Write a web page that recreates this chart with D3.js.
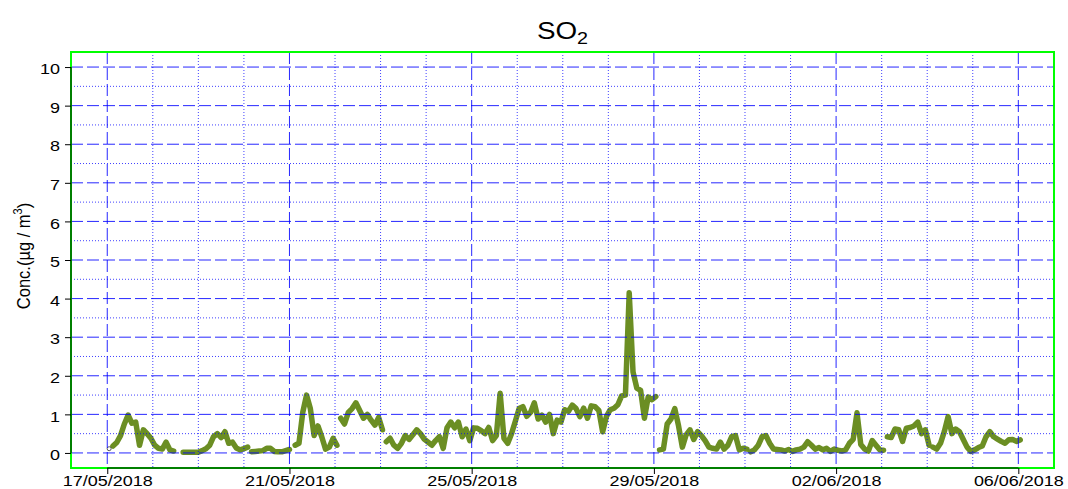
<!DOCTYPE html>
<html>
<head>
<meta charset="utf-8">
<script src="https://cdn.jsdelivr.net/npm/d3@7/dist/d3.min.js"></script>
<style>
	body { margin: 0; background: #fff; }
	text { font-family: "Liberation Sans", Arial, Helvetica, sans-serif; fill: #000; }
</style>
</head>
<body>
<svg id="chart" width="1068" height="489"></svg>
<script>
// SO2 hourly-ish series at 2 h steps.
// segStarts: hours after 17/05/2018 00:00 where each unbroken run begins
const stepHours = 2
const segStarts = [1, 3, 40, 76, 99, 123, 147, 291, 339, 411, 435]
const segValues = [
	[0.11],
	[0.18, 0.27, 0.45, 0.75, 0.98, 0.77, 0.8, 0.2, 0.6, 0.5, 0.38, 0.2, 0.12, 0.1, 0.28, 0.08, 0.05],
	[0.02, 0.02, 0.02, 0.02, 0.02, 0.06, 0.11, 0.2, 0.42, 0.5, 0.4, 0.55, 0.25, 0.28, 0.13, 0.08, 0.11, 0.15],
	[0.03, 0.04, 0.05, 0.06, 0.12, 0.12, 0.04, 0.03, 0.03, 0.06, 0.09],
	[0.2, 0.25, 1.05, 1.5, 1.15, 0.45, 0.7, 0.42, 0.1, 0.15, 0.38, 0.2],
	[0.9, 0.75, 1.05, 1.15, 1.3, 1.1, 0.9, 1.0, 0.85, 0.72, 0.92, 0.6],
	[0.29, 0.38, 0.2, 0.12, 0.25, 0.45, 0.35, 0.47, 0.6, 0.5,
	 0.36, 0.28, 0.2, 0.32, 0.42, 0.12, 0.65, 0.8, 0.65, 0.8,
	 0.42, 0.62, 0.32, 0.65, 0.64, 0.58, 0.5, 0.66, 0.32, 0.45,
	 1.55, 0.38, 0.25, 0.5, 0.82, 1.15, 1.2, 0.95, 1.05, 1.3,
	 0.88, 0.98, 0.8, 1.0, 0.5, 0.85, 0.8, 1.12, 1.08, 1.24,
	 1.15, 0.94, 1.16, 0.9, 1.22, 1.2, 1.1, 0.55, 0.95, 1.12,
	 1.16, 1.25, 1.48, 1.5, 4.15, 2.1, 1.68, 1.62, 0.9, 1.45,
	 1.38, 1.46],
	[0.08, 0.1, 0.75, 0.88, 1.15, 0.7, 0.15, 0.47, 0.6, 0.35, 0.55, 0.45, 0.32, 0.15, 0.12, 0.1, 0.28, 0.1, 0.2, 0.42, 0.45, 0.08, 0.12, 0.1],
	[0.03, 0.08, 0.2, 0.42, 0.45, 0.25, 0.1, 0.09, 0.08, 0.05, 0.09, 0.04, 0.08, 0.1, 0.15, 0.29, 0.2, 0.1, 0.14, 0.08,
	 0.12, 0.04, 0.1, 0.07, 0.05, 0.08, 0.25, 0.35, 1.04, 0.22, 0.1, 0.05, 0.32, 0.2, 0.08, 0.07],
	[0.42, 0.4, 0.62, 0.6, 0.3, 0.64, 0.66, 0.7, 0.8, 0.5, 0.6, 0.2],
	[0.15, 0.1, 0.25, 0.55, 0.94, 0.5, 0.62, 0.55, 0.35, 0.15, 0.04, 0.08, 0.14, 0.18, 0.42, 0.55, 0.42, 0.36, 0.3, 0.25, 0.34, 0.35, 0.3, 0.34],
]
const xTickLabels = ['17/05/2018', '21/05/2018', '25/05/2018', '29/05/2018', '02/06/2018', '06/06/2018']
const yTicks = [0, 1, 2, 3, 4, 5, 6, 7, 8, 9, 10]
const yMinor = [0.5, 1.5, 2.5, 3.5, 4.5, 5.5, 6.5, 7.5, 8.5, 9.5]

const parse = d3.utcParse('%d/%m/%Y')
const fmt = d3.utcFormat('%d/%m/%Y')
const t0 = parse(xTickLabels[0])
const H = 3600e3
const atHour = (h) => new Date(+t0 + h * H)

const plot = { left: 71, top: 52, right: 1054, bottom: 468 }
const sx = 1.16 // the source picture is a little wider than tall

const svg = d3.select('#chart')

const x = d3.scaleUtc()
	.domain([atHour(-19.1), atHour(480 + 18.8)])
	.range([plot.left, plot.right])
const y = d3.scaleLinear()
	.domain([-0.39, 10.39])
	.range([plot.bottom, plot.top])

const majorDays = xTickLabels.map(parse)
const minorDays = d3.utcDay.range(majorDays[0], d3.utcDay.offset(majorDays[majorDays.length - 1], 1))
	.filter(d => !majorDays.some(m => +m === +d))

const segments = segStarts.map((s, i) => segValues[i].map((v, j) => ({ t: atHour(s + j * stepHours), v })))

// data line
const line = d3.line().x(d => x(d.t)).y(d => y(d.v))
const gData = svg.append('g')
gData.selectAll('path')
	.data(segments.filter(s => s.length > 1))
	.enter()
	.append('path')
	.attr('d', line)
	.attr('fill', 'none')
	.attr('stroke', '#6b8e23')
	.attr('stroke-width', 5.5)
	.attr('stroke-linejoin', 'round')
	.attr('stroke-linecap', 'round')

gData.selectAll('circle')
	.data(segments.filter(s => s.length === 1))
	.enter()
	.append('circle')
	.attr('cx', d => x(d[0].t))
	.attr('cy', d => y(d[0].v))
	.attr('r', 2)
	.attr('fill', '#fff')
	.attr('stroke', '#333')
	.attr('stroke-width', 0.8)

// grid (drawn over the line, as in the source)
const gGrid = svg.append('g').attr('stroke', '#0000ff').attr('stroke-width', 1).attr('fill', 'none')
gGrid.selectAll('line.hmaj').data(yTicks).enter().append('line')
	.attr('x1', plot.left).attr('x2', plot.right)
	.attr('y1', d => y(d)).attr('y2', d => y(d))
	.attr('stroke-dasharray', '12,4').attr('stroke-opacity', 0.85)
gGrid.selectAll('line.hmin').data(yMinor).enter().append('line')
	.attr('x1', plot.left).attr('x2', plot.right)
	.attr('y1', d => y(d)).attr('y2', d => y(d))
	.attr('stroke-dasharray', '1,2').attr('stroke-opacity', 0.75)
gGrid.selectAll('line.vmaj').data(majorDays).enter().append('line')
	.attr('y1', plot.top).attr('y2', plot.bottom)
	.attr('x1', d => x(d)).attr('x2', d => x(d))
	.attr('stroke-dasharray', '12,4').attr('stroke-opacity', 0.85)
gGrid.selectAll('line.vmin').data(minorDays).enter().append('line')
	.attr('y1', plot.top).attr('y2', plot.bottom)
	.attr('x1', d => x(d)).attr('x2', d => x(d))
	.attr('stroke-dasharray', '1,2').attr('stroke-opacity', 0.75)

// box
svg.append('rect')
	.attr('x', plot.left).attr('y', plot.top)
	.attr('width', plot.right - plot.left).attr('height', plot.bottom - plot.top)
	.attr('fill', 'none').attr('stroke', '#00ff00').attr('stroke-width', 2)

// axes, base-graphics style: axis line spans first to last tick
const yAxis = svg.append('g')
	.attr('transform', `translate(${plot.left},0)`)
	.call(d3.axisLeft(y).tickValues(yTicks).tickSize(6).tickSizeOuter(0))
yAxis.select('.domain').remove()
yAxis.append('line').attr('stroke', '#000')
	.attr('y1', y(yTicks[0])).attr('y2', y(yTicks[yTicks.length - 1]))
yAxis.selectAll('.tick line').attr('stroke', '#000')
yAxis.selectAll('.tick text')
	.attr('x', null).attr('dy', '0.43em')
	.attr('transform', `translate(-11,0) scale(${sx},1)`)
	.style('font-size', '15.5px').attr('fill', '#000')
	.style('text-anchor', 'end')

const xAxis = svg.append('g')
	.attr('transform', `translate(0,${plot.bottom})`)
	.call(d3.axisBottom(x).tickValues(majorDays).tickFormat(fmt).tickSize(6))
xAxis.select('.domain').remove()
xAxis.append('line').attr('stroke', '#000')
	.attr('x1', x(majorDays[0])).attr('x2', x(majorDays[majorDays.length - 1]))
xAxis.selectAll('.tick line').attr('stroke', '#000')
xAxis.selectAll('.tick text')
	.attr('y', null).attr('dy', '0.71em')
	.attr('transform', `translate(0,7) scale(${sx},1)`)
	.style('font-size', '15.5px').attr('fill', '#000')

// title
const title = svg.append('text')
	.attr('transform', `translate(${(plot.left + plot.right) / 2},39) scale(${sx},1)`)
	.attr('text-anchor', 'middle')
	.style('font-size', '24px')
title.append('tspan').text('SO')
title.append('tspan').text('2').attr('dy', 5).style('font-size', '17px')

// y label
const ylab = svg.append('text')
	.attr('transform', `translate(30,256) scale(${sx},1) rotate(-90)`)
	.attr('text-anchor', 'middle')
	.style('font-size', '16.5px')
ylab.append('tspan').text('Conc.(µg / m')
ylab.append('tspan').text('3').attr('dy', -7).style('font-size', '11px')
ylab.append('tspan').text(')').attr('dy', 7)
</script>
</body>
</html>
